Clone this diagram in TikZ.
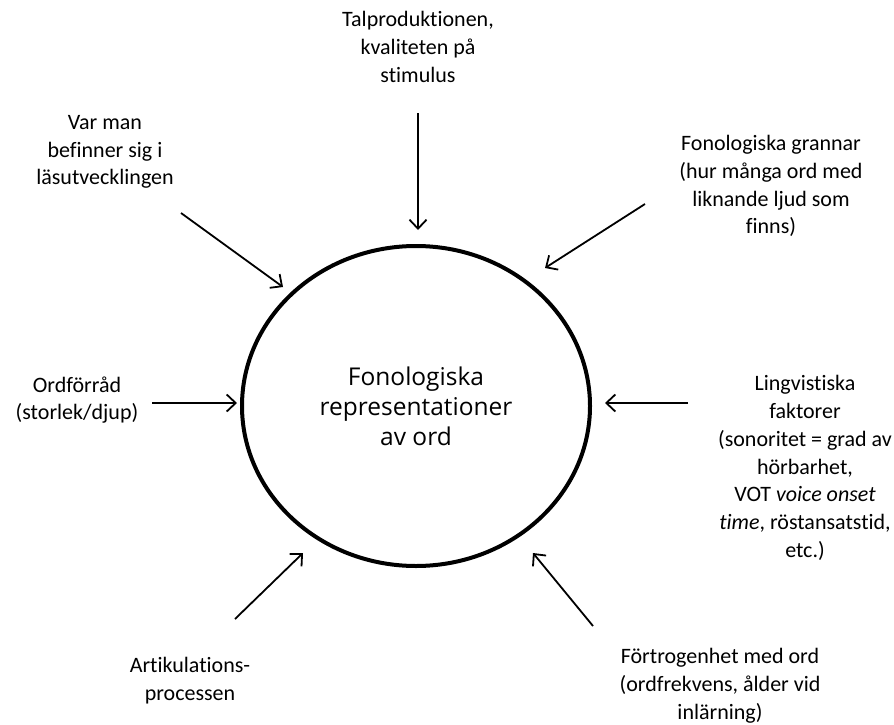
\documentclass[tikz,border=0pt]{standalone}
\usepackage{fontspec}
\setmainfont[Ligatures={NoCommon}]{Carlito}
\newfontfamily\ringfont{Open Sans}
\usetikzlibrary{arrows.meta, shapes.geometric}

\tikzset{
  factor/.style={align=center, inner sep=0pt, font=\fontsize{22}{27.8}\selectfont},
  infl/.style={-{Straight Barb[length=9pt, width=17pt]}, line width=1.8pt},
  ring/.style={ellipse, draw, line width=4pt, minimum width=348pt, minimum height=320pt,
    align=center, font=\ringfont\fontsize{24.5}{30}\selectfont}
}

\begin{document}
\begin{tikzpicture}[x=1pt, y=-1pt]
  \useasboundingbox (0,0) rectangle (894,725);

  \node[ring] (repr) at (416,406) {Fonologiska\\representationer\\av ord};

  \node[factor] (talprod) at (418,47) {Talproduktionen,\\kvaliteten på\\stimulus};
  \node[factor] (varman) at (105,152) {Var man\\befinner sig i\\läsutvecklingen};
  \node[factor] (grannar) at (771,186) {Fonologiska grannar\\(hur många ord med\\liknande ljud som\\finns)};
  \node[factor] (ordforrad) at (77,400) {Ordförråd\\(storlek/djup)};
  \node[factor] (lingv) at (805,468) {Lingvistiska\\faktorer\\(sonoritet = grad av\\hörbarhet,\\VOT \textit{voice onset}\\\textit{time}, röstansatstid,\\etc.)};
  \node[factor] (artik) at (190,681) {Artikulations-\\processen};
  \node[factor] (fortrog) at (720,686) {Förtrogenhet med ord\\(ordfrekvens, ålder vid\\inlärning)};

  % arrow ends
  \coordinate (t1) at (418,113);  \coordinate (h1) at (418,230);
  \coordinate (t2) at (181,213);  \coordinate (h2) at (283,287);
  \coordinate (t3) at (645,204);  \coordinate (h3) at (545,268);
  \coordinate (t4) at (152,403);  \coordinate (h4) at (237,403);
  \coordinate (t5) at (688,403);  \coordinate (h5) at (605,403);
  \coordinate (t6) at (235,619);  \coordinate (h6) at (303,553);
  \coordinate (t7) at (593,626);  \coordinate (h7) at (533,553);

  \foreach \i in {1,...,7}
    \draw[infl] (t\i) -- (h\i);
\end{tikzpicture}
\end{document}
